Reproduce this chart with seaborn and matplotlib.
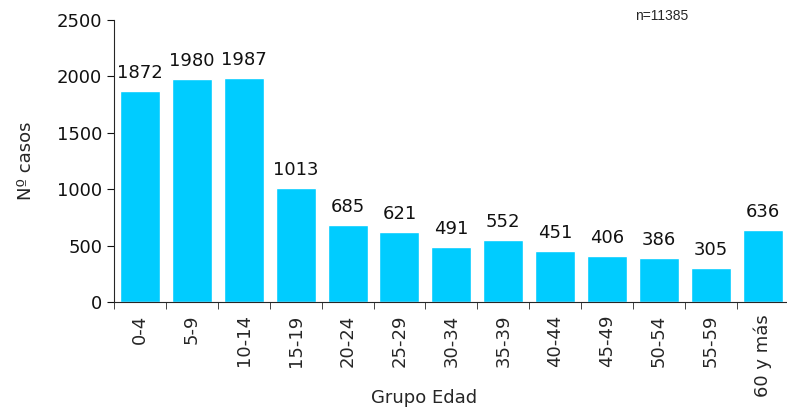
import matplotlib
matplotlib.use("Agg")
import matplotlib.pyplot as plt
import seaborn as sns
import numpy as np

grupos = ["0-4", "5-9", "10-14", "15-19", "20-24", "25-29", "30-34",
          "35-39", "40-44", "45-49", "50-54", "55-59", "60 y más"]
casos = [1872, 1980, 1987, 1013, 685, 621, 491, 552, 451, 406, 386, 305, 636]

sns.set_style("ticks")
plt.rcParams["font.family"] = ["DejaVu Sans"]

fig = plt.figure(figsize=(7.87, 4.08), dpi=100)
ax = fig.add_axes([0.145, 0.26, 0.857, 0.691])

sns.barplot(x=grupos, y=casos, color="#00CCFF", saturation=1, width=0.77, ax=ax)

for i, v in enumerate(casos):
    ax.text(i, v + 80, str(v), ha="center", va="bottom", fontsize=13, color="#111111")

ax.set_ylim(0, 2500)
ax.set_yticks(range(0, 2501, 500))
ax.set_xlim(-0.5, len(grupos) - 0.5)
ax.tick_params(axis="y", labelsize=13, length=5, direction="out", colors="#111111")
ax.tick_params(axis="x", which="major", length=0, labelsize=13, labelrotation=90, pad=9)
ax.set_xticks(np.arange(-0.5, len(grupos), 1), minor=True)
ax.tick_params(axis="x", which="minor", length=5, direction="out")
for s in ["top", "right"]:
    ax.spines[s].set_visible(False)

ax.set_ylabel("Nº casos", fontsize=13)
ax.yaxis.set_label_coords(-0.118, 0.5)
ax.set_xlabel("Grupo Edad", fontsize=13)
ax.xaxis.set_label_coords(0.46, -0.31)

fig.text(0.807, 0.952, "n=11385", fontsize=10, family="Liberation Sans")

fig.savefig("out.png", dpi=100)
